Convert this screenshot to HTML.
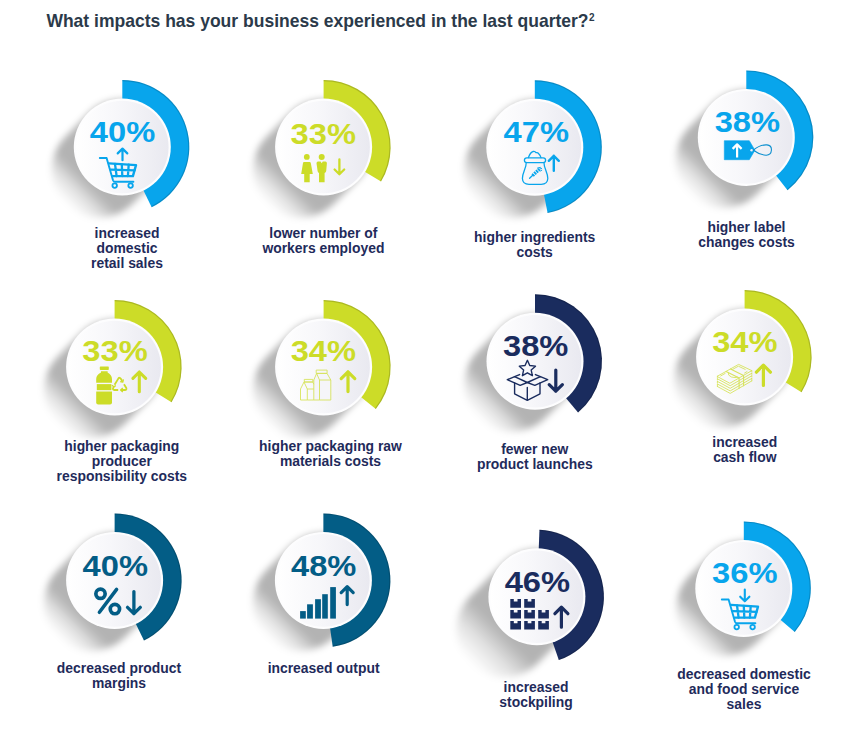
<!DOCTYPE html>
<html><head><meta charset="utf-8"><title>Business impacts</title>
<style>
html,body{margin:0;padding:0;background:#fff}
body{width:866px;height:733px;position:relative;overflow:hidden;font-family:"Liberation Sans",sans-serif}
#gfx{position:absolute;left:0;top:0}
h1{position:absolute;left:46.4px;top:11.4px;margin:0;font-size:17.53px;line-height:20px;font-weight:bold;color:#2b3a4a;white-space:nowrap}
h1 sup{font-size:10px;font-weight:bold;vertical-align:baseline;position:relative;top:-6px;margin-left:0.5px}
.lb{position:absolute;width:200px;text-align:center;font-size:13.9px;line-height:15.0px;font-weight:bold;color:#1f2b5b;white-space:nowrap}
</style></head><body>
<svg id="gfx" width="866" height="733" viewBox="0 0 866 733">
<defs>
<linearGradient id="dg" x1="0" y1="0" x2="1" y2="0"><stop offset="0" stop-color="#ffffff"/><stop offset="0.45" stop-color="#f7f7fa"/><stop offset="1" stop-color="#e9e9f0"/></linearGradient>
<filter id="sh" filterUnits="userSpaceOnUse" x="-140" y="-80" width="240" height="240"><feGaussianBlur stdDeviation="3.5"/></filter>
</defs>
<g>
<g transform="translate(122.3 147.0)"><linearGradient id="sg0" gradientUnits="userSpaceOnUse" x1="0" y1="0" x2="-56.6" y2="56.6"><stop offset="0" stop-color="#000" stop-opacity="0.3"/><stop offset="0.606" stop-color="#000" stop-opacity="0.3"/><stop offset="0.803" stop-color="#000" stop-opacity="0.114"/><stop offset="1" stop-color="#000" stop-opacity="0"/></linearGradient><line x1="0" y1="0" x2="-23" y2="23" stroke="url(#sg0)" stroke-width="95.0" stroke-linecap="round" filter="url(#sh)"/></g>
<path d="M122.30 147.00L122.30 80.00A67 67 0 0 1 151.67 207.22Z" fill="#08a5ec"/>
<path d="M122.30 80.60A66.4 66.4 0 0 1 151.41 206.68" fill="none" stroke="#000" stroke-opacity="0.16" stroke-width="1.2"/>
<circle cx="122.3" cy="147.0" r="48.5" fill="#fdfdfe"/>
<circle cx="122.3" cy="147.0" r="46.3" fill="url(#dg)"/>
<text x="89.8" y="141.5" font-family="Liberation Sans, sans-serif" font-weight="bold" font-size="30.2" fill="#08a5ec" textLength="65.4" lengthAdjust="spacingAndGlyphs">40%</text>
<g transform="translate(0 0)" fill="none" stroke="#08a5ec" stroke-linecap="round" stroke-linejoin="round">
<path d="M99.8 158H106.6L113 180.2Q113.5 181.8 115.2 181.8H133.4" stroke-width="1.9"/>
<path d="M109 163.4L136 165.1L132.9 176.1H112.8" stroke-width="2.4"/>
<path d="M110.9 169.7L134.5 170.4M115 163.9L116.6 176M121.8 164.3L122.3 176M128.7 164.7L127.9 176" stroke-width="2.3"/>
<circle cx="114.7" cy="185.6" r="2.25" stroke-width="1.8"/><circle cx="130.6" cy="185.6" r="2.25" stroke-width="1.8"/>
</g><path d="M122.5 160.2V148.6M117.70 153.40L122.5 148.6L127.30 153.40" fill="none" stroke="#08a5ec" stroke-width="2.2" stroke-linecap="round" stroke-linejoin="round"/>
</g>
<g>
<g transform="translate(323.6 147.0)"><linearGradient id="sg1" gradientUnits="userSpaceOnUse" x1="0" y1="0" x2="-56.6" y2="56.6"><stop offset="0" stop-color="#000" stop-opacity="0.3"/><stop offset="0.606" stop-color="#000" stop-opacity="0.3"/><stop offset="0.803" stop-color="#000" stop-opacity="0.114"/><stop offset="1" stop-color="#000" stop-opacity="0"/></linearGradient><line x1="0" y1="0" x2="-23" y2="23" stroke="url(#sg1)" stroke-width="95.0" stroke-linecap="round" filter="url(#sh)"/></g>
<path d="M323.60 147.00L323.60 80.00A67 67 0 0 1 381.03 181.51Z" fill="#ccdc28"/>
<path d="M323.60 80.60A66.4 66.4 0 0 1 380.52 181.20" fill="none" stroke="#000" stroke-opacity="0.16" stroke-width="1.2"/>
<circle cx="323.6" cy="147.0" r="48.5" fill="#fdfdfe"/>
<circle cx="323.6" cy="147.0" r="46.3" fill="url(#dg)"/>
<text x="290.6" y="144.2" font-family="Liberation Sans, sans-serif" font-weight="bold" font-size="30.2" fill="#ccdc28" textLength="65.4" lengthAdjust="spacingAndGlyphs">33%</text>
<g fill="#ccdc28">
<circle cx="306.8" cy="156.9" r="2.9"/>
<path d="M304 161.9H309.6Q310.6 161.9 310.8 163L312.8 173.9H309.7V182.2H304.2V173.9H301.2L303 163Q303.2 161.9 304 161.9Z"/>
<circle cx="321.7" cy="156.9" r="3"/>
<path d="M318 161.6H320.6L321.7 163.2L322.8 161.6H325.4Q326.9 161.6 326.9 163.2L326.2 171Q326 172.4 324.6 173V182.2H319V173Q317.8 172.4 317.6 171L316.5 163.2Q316.5 161.6 318 161.6Z"/>
</g><path d="M339.4 159.4V174.3M334.60 169.50L339.4 174.3L344.20 169.50" fill="none" stroke="#ccdc28" stroke-width="2.3" stroke-linecap="round" stroke-linejoin="round"/>
</g>
<g>
<g transform="translate(534.8 147.3)"><linearGradient id="sg2" gradientUnits="userSpaceOnUse" x1="0" y1="0" x2="-56.6" y2="56.6"><stop offset="0" stop-color="#000" stop-opacity="0.3"/><stop offset="0.606" stop-color="#000" stop-opacity="0.3"/><stop offset="0.803" stop-color="#000" stop-opacity="0.114"/><stop offset="1" stop-color="#000" stop-opacity="0"/></linearGradient><line x1="0" y1="0" x2="-23" y2="23" stroke="url(#sg2)" stroke-width="95.0" stroke-linecap="round" filter="url(#sh)"/></g>
<path d="M534.80 147.30L534.80 80.30A67 67 0 0 1 547.58 213.07Z" fill="#08a5ec"/>
<path d="M534.80 80.90A66.4 66.4 0 0 1 547.47 212.48" fill="none" stroke="#000" stroke-opacity="0.16" stroke-width="1.2"/>
<circle cx="534.8" cy="147.3" r="48.5" fill="#fdfdfe"/>
<circle cx="534.8" cy="147.3" r="46.3" fill="url(#dg)"/>
<text x="503.6" y="141.7" font-family="Liberation Sans, sans-serif" font-weight="bold" font-size="30.2" fill="#08a5ec" textLength="65.4" lengthAdjust="spacingAndGlyphs">47%</text>
<g fill="none" stroke="#08a5ec" stroke-width="1.3" stroke-linecap="round" stroke-linejoin="round">
<path d="M528.4 157.6Q530.3 152.2 533.2 151.5Q535 151.1 536 152.7Q537.6 152.3 538.7 153.7Q540.2 155.2 541 157.6"/>
<rect x="524.4" y="157.8" width="21.2" height="4.8" rx="2.4"/>
<path d="M526.2 162.6C526.5 168 522.2 173 522.4 178.5C522.6 183 525.5 184.3 529 184.3H541.2C544.7 184.3 547.6 183 547.8 178.5C548 173 543.7 168 544 162.6"/>
<path d="M529.6 178.3L533 175"/>
<path d="M532.6 175.6L539.4 169.2" stroke-width="3.4" stroke-dasharray="1.8 0.8" stroke-linecap="butt"/>
<path d="M537.6 168L540.4 167.4M539.4 169.2L541.6 168.4M540.6 171L541.8 170.2" stroke-width="1"/>
</g><path d="M553.8 170.8V155.8M548.80 160.80L553.8 155.8L558.80 160.80" fill="none" stroke="#08a5ec" stroke-width="2.4" stroke-linecap="round" stroke-linejoin="round"/>
</g>
<g>
<g transform="translate(746.3 137.4)"><linearGradient id="sg3" gradientUnits="userSpaceOnUse" x1="0" y1="0" x2="-56.6" y2="56.6"><stop offset="0" stop-color="#000" stop-opacity="0.3"/><stop offset="0.606" stop-color="#000" stop-opacity="0.3"/><stop offset="0.803" stop-color="#000" stop-opacity="0.114"/><stop offset="1" stop-color="#000" stop-opacity="0"/></linearGradient><line x1="0" y1="0" x2="-23" y2="23" stroke="url(#sg3)" stroke-width="95.0" stroke-linecap="round" filter="url(#sh)"/></g>
<path d="M746.30 137.40L746.30 70.40A67 67 0 0 1 787.55 190.20Z" fill="#08a5ec"/>
<path d="M746.30 71.00A66.4 66.4 0 0 1 787.18 189.72" fill="none" stroke="#000" stroke-opacity="0.16" stroke-width="1.2"/>
<circle cx="746.3" cy="137.4" r="48.5" fill="#fdfdfe"/>
<circle cx="746.3" cy="137.4" r="46.3" fill="url(#dg)"/>
<text x="714.7" y="131.8" font-family="Liberation Sans, sans-serif" font-weight="bold" font-size="30.2" fill="#08a5ec" textLength="65.4" lengthAdjust="spacingAndGlyphs">38%</text>
<path d="M724.3 140.7H749.3L754.9 150.2L749.3 159.7H724.3Z" fill="#08a5ec" stroke="#08a5ec" stroke-width="0.6" stroke-linejoin="round"/>
<circle cx="751.6" cy="150.2" r="1.25" fill="#f1f1f6"/>
<path d="M753.4 150.2C758 146.2 763 144.6 767 144.9C770.6 145.2 771.6 147.9 771.4 150.3C771.2 153 769.4 155.3 766 155.2C762 155 758 153.6 753.4 150.2Z" fill="none" stroke="#0c8fcf" stroke-width="1.1"/>
<path d="M737.1 157.6V144.4M732.60 148.90L737.1 144.4L741.60 148.90" fill="none" stroke="#ffffff" stroke-width="2.2" stroke-linecap="butt" stroke-linejoin="round"/>
</g>
<g>
<g transform="translate(114.6 367.0)"><linearGradient id="sg4" gradientUnits="userSpaceOnUse" x1="0" y1="0" x2="-56.6" y2="56.6"><stop offset="0" stop-color="#000" stop-opacity="0.3"/><stop offset="0.606" stop-color="#000" stop-opacity="0.3"/><stop offset="0.803" stop-color="#000" stop-opacity="0.114"/><stop offset="1" stop-color="#000" stop-opacity="0"/></linearGradient><line x1="0" y1="0" x2="-23" y2="23" stroke="url(#sg4)" stroke-width="95.0" stroke-linecap="round" filter="url(#sh)"/></g>
<path d="M114.60 367.00L114.60 300.00A67 67 0 0 1 171.54 402.31Z" fill="#ccdc28"/>
<path d="M114.60 300.60A66.4 66.4 0 0 1 171.03 401.99" fill="none" stroke="#000" stroke-opacity="0.16" stroke-width="1.2"/>
<circle cx="114.6" cy="367.0" r="48.5" fill="#fdfdfe"/>
<circle cx="114.6" cy="367.0" r="46.3" fill="url(#dg)"/>
<text x="82.3" y="361.4" font-family="Liberation Sans, sans-serif" font-weight="bold" font-size="30.2" fill="#ccdc28" textLength="65.4" lengthAdjust="spacingAndGlyphs">33%</text>
<g fill="#ccdc28">
<rect x="99.8" y="366.4" width="9" height="3.6" rx="0.7"/>
<path d="M101 371.2H107.6V372.6C110.2 374 112 376.5 112 379V382.8H96.2V379C96.2 376.5 98 374 101 372.6Z"/>
<rect x="96.8" y="384.1" width="14.6" height="6.1"/>
<path d="M96.2 391.4H112V402.4Q112 404.4 110 404.4H98.2Q96.2 404.4 96.2 402.4Z"/>
</g>
<g fill="none" stroke="#ccdc28" stroke-width="1.8" stroke-linejoin="round">
<path d="M114.6 384.8L118.3 378.6Q119.5 376.9 120.8 378.7L122.2 381"/>
<path d="M124 384.2L126.3 388Q127 389.9 124.8 390H121"/>
<path d="M118.2 390H114.4Q112.2 389.8 113.3 387.8L113.9 386.8"/>
<path d="M120.2 381.6L122.8 382L123.4 379.4" stroke-width="1.3"/>
<path d="M122.8 388L120.6 390L122.8 392" stroke-width="1.3"/>
<path d="M112 385.2L113.8 386.8L115.8 385.6" stroke-width="1.3"/>
</g><path d="M139.3 391.8V372M132.90 378.40L139.3 372L145.70 378.40" fill="none" stroke="#ccdc28" stroke-width="3.1" stroke-linecap="round" stroke-linejoin="round"/>
</g>
<g>
<g transform="translate(323.6 367.0)"><linearGradient id="sg5" gradientUnits="userSpaceOnUse" x1="0" y1="0" x2="-56.6" y2="56.6"><stop offset="0" stop-color="#000" stop-opacity="0.3"/><stop offset="0.606" stop-color="#000" stop-opacity="0.3"/><stop offset="0.803" stop-color="#000" stop-opacity="0.114"/><stop offset="1" stop-color="#000" stop-opacity="0"/></linearGradient><line x1="0" y1="0" x2="-23" y2="23" stroke="url(#sg5)" stroke-width="95.0" stroke-linecap="round" filter="url(#sh)"/></g>
<path d="M323.60 367.00L323.60 300.00A67 67 0 0 1 375.82 408.98Z" fill="#ccdc28"/>
<path d="M323.60 300.60A66.4 66.4 0 0 1 375.35 408.61" fill="none" stroke="#000" stroke-opacity="0.16" stroke-width="1.2"/>
<circle cx="323.6" cy="367.0" r="48.5" fill="#fdfdfe"/>
<circle cx="323.6" cy="367.0" r="46.3" fill="url(#dg)"/>
<text x="290.7" y="361.4" font-family="Liberation Sans, sans-serif" font-weight="bold" font-size="30.2" fill="#ccdc28" textLength="65.4" lengthAdjust="spacingAndGlyphs">34%</text>
<path d="M313.8 400V380L316.6 373.4H327L330.8 380V400Z" fill="#f5f5f9"/>
<g fill="none" stroke="#ccdc28" stroke-width="0.9" stroke-linejoin="round" opacity="0.75">
<path d="M300.5 400V389L304 382L307.3 389V400Z"/>
<path d="M304 382H312.6L313.8 384.2M307.3 400H313.8M307.3 389H313.8"/>
<rect x="304.3" y="379.4" width="8.5" height="2.6"/>
<path d="M313.8 400V380L316.6 373.4L319.5 380V400Z"/>
<path d="M316.6 373.4H327L330.8 380V400H319.5M319.5 380H330.8"/>
<rect x="316.2" y="370.1" width="10.9" height="3.3"/>
</g><path d="M348 391.6V371.8M341.20 378.60L348 371.8L354.80 378.60" fill="none" stroke="#ccdc28" stroke-width="3.2" stroke-linecap="round" stroke-linejoin="round"/>
</g>
<g>
<g transform="translate(535.0 361.2)"><linearGradient id="sg6" gradientUnits="userSpaceOnUse" x1="0" y1="0" x2="-56.6" y2="56.6"><stop offset="0" stop-color="#000" stop-opacity="0.3"/><stop offset="0.606" stop-color="#000" stop-opacity="0.3"/><stop offset="0.803" stop-color="#000" stop-opacity="0.114"/><stop offset="1" stop-color="#000" stop-opacity="0"/></linearGradient><line x1="0" y1="0" x2="-23" y2="23" stroke="url(#sg6)" stroke-width="95.0" stroke-linecap="round" filter="url(#sh)"/></g>
<path d="M535.00 361.20L535.00 294.20A67 67 0 0 1 578.07 412.52Z" fill="#1a2c5e"/>
<path d="M535.00 294.80A66.4 66.4 0 0 1 577.68 412.07" fill="none" stroke="#000" stroke-opacity="0.16" stroke-width="1.2"/>
<circle cx="535.0" cy="361.2" r="48.5" fill="#fdfdfe"/>
<circle cx="535.0" cy="361.2" r="46.3" fill="url(#dg)"/>
<text x="503.0" y="355.5" font-family="Liberation Sans, sans-serif" font-weight="bold" font-size="30.2" fill="#1a2c5e" textLength="65.4" lengthAdjust="spacingAndGlyphs">38%</text>
<g fill="none" stroke="#1a2c5e" stroke-width="1.4" stroke-linejoin="round" stroke-linecap="round">
<path d="M527.40 360.30L529.75 365.56L535.48 366.17L531.20 370.04L532.40 375.68L527.40 372.80L522.40 375.68L523.60 370.04L519.32 366.17L525.05 365.56Z"/>
<path d="M514.6 376.7L507.3 379.7L520.2 385.3L527.3 382.5Z"/>
<path d="M540.4 376.7L547.7 379.7L534.8 385.3L527.3 382.5Z"/>
<path d="M514.6 376.7L519.6 374.6M540.4 376.7L535.4 374.6"/>
<path d="M514.6 383V393.8L527.3 400.3L540 393.8V383M527.3 387.4V400.3"/>
</g><path d="M555.8 370V391.2M549.20 384.60L555.8 391.2L562.40 384.60" fill="none" stroke="#1a2c5e" stroke-width="3.2" stroke-linecap="round" stroke-linejoin="round"/>
</g>
<g>
<g transform="translate(744.6 357.0)"><linearGradient id="sg7" gradientUnits="userSpaceOnUse" x1="0" y1="0" x2="-56.6" y2="56.6"><stop offset="0" stop-color="#000" stop-opacity="0.3"/><stop offset="0.606" stop-color="#000" stop-opacity="0.3"/><stop offset="0.803" stop-color="#000" stop-opacity="0.114"/><stop offset="1" stop-color="#000" stop-opacity="0"/></linearGradient><line x1="0" y1="0" x2="-23" y2="23" stroke="url(#sg7)" stroke-width="95.0" stroke-linecap="round" filter="url(#sh)"/></g>
<path d="M744.60 357.00L744.60 290.00A67 67 0 0 1 801.54 392.31Z" fill="#ccdc28"/>
<path d="M744.60 290.60A66.4 66.4 0 0 1 801.03 391.99" fill="none" stroke="#000" stroke-opacity="0.16" stroke-width="1.2"/>
<circle cx="744.6" cy="357.0" r="48.5" fill="#fdfdfe"/>
<circle cx="744.6" cy="357.0" r="46.3" fill="url(#dg)"/>
<text x="712.2" y="351.7" font-family="Liberation Sans, sans-serif" font-weight="bold" font-size="30.2" fill="#ccdc28" textLength="65.4" lengthAdjust="spacingAndGlyphs">34%</text>
<g fill="none" stroke="#ccdc28" stroke-width="0.9" stroke-linejoin="round" stroke-linecap="round" opacity="0.75">
<path d="M717.4 376.2L738.6 364.4L751.8 370.6L730.2 383.1Z"/>
<path d="M717.4 378.8L730.2 385.7L751.8 373.2M717.4 381.4L730.2 388.3L751.8 375.8M717.4 384.0L730.2 390.9L751.8 378.4M717.4 386.5L730.2 393.4L751.8 380.9"/>
<path d="M717.4 376.2V377.4M717.4 378.8V380M717.4 381.4V382.6M717.4 384V386.5M751.8 370.6V371.8M751.8 373.2V374.4M751.8 375.8V377M751.8 378.4V380.9"/>
<path d="M720.6 376L725.2 373.4M745.2 369.4L738.4 366.2L732.6 369.4M747 371.6L744.6 373"/>
<path d="M726.1 371.4L739.1 378V388.3M730.5 368.9L743.6 375.4V385.7" stroke-width="1.1"/>
<path d="M728.2 372.6Q727.6 375.6 731.4 377Q735.4 378.2 737.4 377.2"/>
</g><path d="M763.4 385.4V365.2M756.40 372.20L763.4 365.2L770.40 372.20" fill="none" stroke="#ccdc28" stroke-width="3.2" stroke-linecap="round" stroke-linejoin="round"/>
</g>
<g>
<g transform="translate(114.6 580.4)"><linearGradient id="sg8" gradientUnits="userSpaceOnUse" x1="0" y1="0" x2="-56.6" y2="56.6"><stop offset="0" stop-color="#000" stop-opacity="0.3"/><stop offset="0.606" stop-color="#000" stop-opacity="0.3"/><stop offset="0.803" stop-color="#000" stop-opacity="0.114"/><stop offset="1" stop-color="#000" stop-opacity="0"/></linearGradient><line x1="0" y1="0" x2="-23" y2="23" stroke="url(#sg8)" stroke-width="95.0" stroke-linecap="round" filter="url(#sh)"/></g>
<path d="M114.60 580.40L114.60 513.40A67 67 0 0 1 143.97 640.62Z" fill="#035d86"/>
<path d="M114.60 514.00A66.4 66.4 0 0 1 143.71 640.08" fill="none" stroke="#000" stroke-opacity="0.16" stroke-width="1.2"/>
<circle cx="114.6" cy="580.4" r="48.5" fill="#fdfdfe"/>
<circle cx="114.6" cy="580.4" r="46.3" fill="url(#dg)"/>
<text x="82.6" y="575.5" font-family="Liberation Sans, sans-serif" font-weight="bold" font-size="30.2" fill="#035d86" textLength="65.4" lengthAdjust="spacingAndGlyphs">40%</text>
<g fill="none" stroke="#035d86" stroke-linecap="round">
<circle cx="100.5" cy="593.8" r="4.65" stroke-width="3.7"/>
<circle cx="114.9" cy="609.1" r="4.65" stroke-width="3.7"/>
<path d="M116.6 589.4L99.4 612.3" stroke-width="3.5"/>
</g><path d="M133.9 591.6V613.7M127.50 607.30L133.9 613.7L140.30 607.30" fill="none" stroke="#035d86" stroke-width="3.3" stroke-linecap="round" stroke-linejoin="round"/>
</g>
<g>
<g transform="translate(323.4 580.4)"><linearGradient id="sg9" gradientUnits="userSpaceOnUse" x1="0" y1="0" x2="-56.6" y2="56.6"><stop offset="0" stop-color="#000" stop-opacity="0.3"/><stop offset="0.606" stop-color="#000" stop-opacity="0.3"/><stop offset="0.803" stop-color="#000" stop-opacity="0.114"/><stop offset="1" stop-color="#000" stop-opacity="0"/></linearGradient><line x1="0" y1="0" x2="-23" y2="23" stroke="url(#sg9)" stroke-width="95.0" stroke-linecap="round" filter="url(#sh)"/></g>
<path d="M323.40 580.40L323.40 513.40A67 67 0 0 1 332.72 646.75Z" fill="#035d86"/>
<path d="M323.40 514.00A66.4 66.4 0 0 1 332.64 646.15" fill="none" stroke="#000" stroke-opacity="0.16" stroke-width="1.2"/>
<circle cx="323.4" cy="580.4" r="48.5" fill="#fdfdfe"/>
<circle cx="323.4" cy="580.4" r="46.3" fill="url(#dg)"/>
<text x="291.0" y="575.5" font-family="Liberation Sans, sans-serif" font-weight="bold" font-size="30.2" fill="#035d86" textLength="65.4" lengthAdjust="spacingAndGlyphs">48%</text>
<rect x="300.1" y="611.1" width="5.7" height="7.5" fill="#035d86"/><rect x="307.1" y="604.3" width="5.8" height="14.3" fill="#035d86"/><rect x="315.1" y="599.2" width="5.8" height="19.4" fill="#035d86"/><rect x="322.2" y="594.2" width="5.6" height="24.4" fill="#035d86"/><rect x="330.2" y="587.1" width="5.7" height="31.5" fill="#035d86"/><path d="M347.2 604.6V586.6M341.20 592.60L347.2 586.6L353.20 592.60" fill="none" stroke="#035d86" stroke-width="3.2" stroke-linecap="round" stroke-linejoin="round"/>
</g>
<g>
<g transform="translate(536.9 596.8)"><linearGradient id="sg10" gradientUnits="userSpaceOnUse" x1="0" y1="0" x2="-66.6" y2="66.6"><stop offset="0" stop-color="#000" stop-opacity="0.3"/><stop offset="0.515" stop-color="#000" stop-opacity="0.3"/><stop offset="0.758" stop-color="#000" stop-opacity="0.114"/><stop offset="1" stop-color="#000" stop-opacity="0"/></linearGradient><line x1="0" y1="0" x2="-33" y2="33" stroke="url(#sg10)" stroke-width="95.0" stroke-linecap="round" filter="url(#sh)"/></g>
<path d="M536.90 596.80L539.47 529.85A67 67 0 0 1 558.82 660.11Z" fill="#1a2c5e"/>
<path d="M539.45 530.45A66.4 66.4 0 0 1 558.63 659.54" fill="none" stroke="#000" stroke-opacity="0.16" stroke-width="1.2"/>
<circle cx="536.9" cy="596.8" r="48.5" fill="#fdfdfe"/>
<circle cx="536.9" cy="596.8" r="46.3" fill="url(#dg)"/>
<text x="504.7" y="591.5" font-family="Liberation Sans, sans-serif" font-weight="bold" font-size="30.2" fill="#1a2c5e" textLength="65.4" lengthAdjust="spacingAndGlyphs">46%</text>
<path d="M510.3 599.1h3.5v2.4h3.7v-2.4h3.5v8.6h-10.7Z" fill="#1a2c5e"/><path d="M524.2 599.1h3.5v2.4h3.7v-2.4h3.5v8.6h-10.7Z" fill="#1a2c5e"/><path d="M510.3 610h3.5v2.4h3.7v-2.4h3.5v8.6h-10.7Z" fill="#1a2c5e"/><path d="M524.2 610h3.5v2.4h3.7v-2.4h3.5v8.6h-10.7Z" fill="#1a2c5e"/><path d="M538.2 610h3.5v2.4h3.7v-2.4h3.5v8.6h-10.7Z" fill="#1a2c5e"/><path d="M510.3 620.9h3.5v2.4h3.7v-2.4h3.5v8.6h-10.7Z" fill="#1a2c5e"/><path d="M524.2 620.9h3.5v2.4h3.7v-2.4h3.5v8.6h-10.7Z" fill="#1a2c5e"/><path d="M538.2 620.9h3.5v2.4h3.7v-2.4h3.5v8.6h-10.7Z" fill="#1a2c5e"/><path d="M561.4 627.2V607.2M554.90 613.70L561.4 607.2L567.90 613.70" fill="none" stroke="#1a2c5e" stroke-width="3.2" stroke-linecap="round" stroke-linejoin="round"/>
</g>
<g>
<g transform="translate(743.8 588.4)"><linearGradient id="sg11" gradientUnits="userSpaceOnUse" x1="0" y1="0" x2="-53.6" y2="53.6"><stop offset="0" stop-color="#000" stop-opacity="0.3"/><stop offset="0.640" stop-color="#000" stop-opacity="0.3"/><stop offset="0.820" stop-color="#000" stop-opacity="0.114"/><stop offset="1" stop-color="#000" stop-opacity="0"/></linearGradient><line x1="0" y1="0" x2="-20" y2="20" stroke="url(#sg11)" stroke-width="95.0" stroke-linecap="round" filter="url(#sh)"/></g>
<path d="M743.80 588.40L743.80 521.40A67 67 0 0 1 794.75 631.91Z" fill="#08a5ec"/>
<path d="M743.80 522.00A66.4 66.4 0 0 1 794.29 631.52" fill="none" stroke="#000" stroke-opacity="0.16" stroke-width="1.2"/>
<circle cx="743.8" cy="588.4" r="48.5" fill="#fdfdfe"/>
<circle cx="743.8" cy="588.4" r="46.3" fill="url(#dg)"/>
<text x="712.1" y="583.0" font-family="Liberation Sans, sans-serif" font-weight="bold" font-size="30.2" fill="#08a5ec" textLength="65.4" lengthAdjust="spacingAndGlyphs">36%</text>
<g transform="translate(622 441.5)" fill="none" stroke="#08a5ec" stroke-linecap="round" stroke-linejoin="round">
<path d="M99.8 158H106.6L113 180.2Q113.5 181.8 115.2 181.8H133.4" stroke-width="1.9"/>
<path d="M109 163.4L136 165.1L132.9 176.1H112.8" stroke-width="2.4"/>
<path d="M110.9 169.7L134.5 170.4M115 163.9L116.6 176M121.8 164.3L122.3 176M128.7 164.7L127.9 176" stroke-width="2.3"/>
<circle cx="114.7" cy="185.6" r="2.25" stroke-width="1.8"/><circle cx="130.6" cy="185.6" r="2.25" stroke-width="1.8"/>
</g><path d="M744.8 589.6V601.3M740.20 596.70L744.8 601.3L749.40 596.70" fill="none" stroke="#08a5ec" stroke-width="2.1" stroke-linecap="round" stroke-linejoin="round"/>
</g>
</svg>
<h1>What impacts has your business experienced in the last quarter?<sup>2</sup></h1>
<div class="lb" style="left:27.0px;top:226.2px">increased<br>domestic<br>retail sales</div>
<div class="lb" style="left:223.4px;top:225.8px">lower number of<br>workers employed</div>
<div class="lb" style="left:434.7px;top:229.7px">higher ingredients<br>costs</div>
<div class="lb" style="left:646.5px;top:219.7px">higher label<br>changes costs</div>
<div class="lb" style="left:21.8px;top:438.8px">higher packaging<br>producer<br>responsibility costs</div>
<div class="lb" style="left:230.5px;top:438.5px">higher packaging raw<br>materials costs</div>
<div class="lb" style="left:434.8px;top:441.5px">fewer new<br>product launches</div>
<div class="lb" style="left:644.8px;top:435.4px">increased<br>cash flow</div>
<div class="lb" style="left:19.0px;top:660.9px">decreased product<br>margins</div>
<div class="lb" style="left:223.6px;top:660.9px">increased output</div>
<div class="lb" style="left:436.0px;top:679.7px">increased<br>stockpiling</div>
<div class="lb" style="left:644.0px;top:667.3px">decreased domestic<br>and food service<br>sales</div>
</body></html>
